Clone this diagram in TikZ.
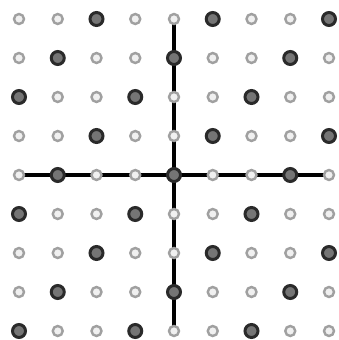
\documentclass[tikz,border=0pt]{standalone}
\usetikzlibrary{backgrounds}
\definecolor{LatRing}{HTML}{A0A0A0}
\definecolor{LatCore}{HTML}{F0F0F0}
\definecolor{SubRing}{HTML}{2A2A2A}
\definecolor{SubCore}{HTML}{757575}
\tikzset{
  latpt/.style={circle,draw=LatRing,fill=LatCore,line width=2.4pt,
                minimum size=10pt,inner sep=0pt},
  subpt/.style={circle,draw=SubRing,fill=SubCore,line width=3pt,
                minimum size=13pt,inner sep=0pt},
  axis/.style={black,line width=3.4pt},
}
\begin{document}
\begin{tikzpicture}[x=1pt,y=-1pt]
  \useasboundingbox (0,0) rectangle (338,340);
  \foreach \i in {0,...,8}{
    \foreach \j in {0,...,8}{
      \pgfmathtruncatemacro{\k}{mod(\i+\j,3)}
      \ifnum\k=2
        \node[subpt] (p-\i-\j) at (19+38.75*\i,19+39*\j) {};
      \else
        \node[latpt] (p-\i-\j) at (19+38.75*\i,19+39*\j) {};
      \fi
    }
  }
  \begin{scope}[on background layer]
    \draw[axis] (p-0-4.center) -- (p-8-4.center);
    \draw[axis] (p-4-0.center) -- (p-4-8.center);
  \end{scope}
\end{tikzpicture}
\end{document}
